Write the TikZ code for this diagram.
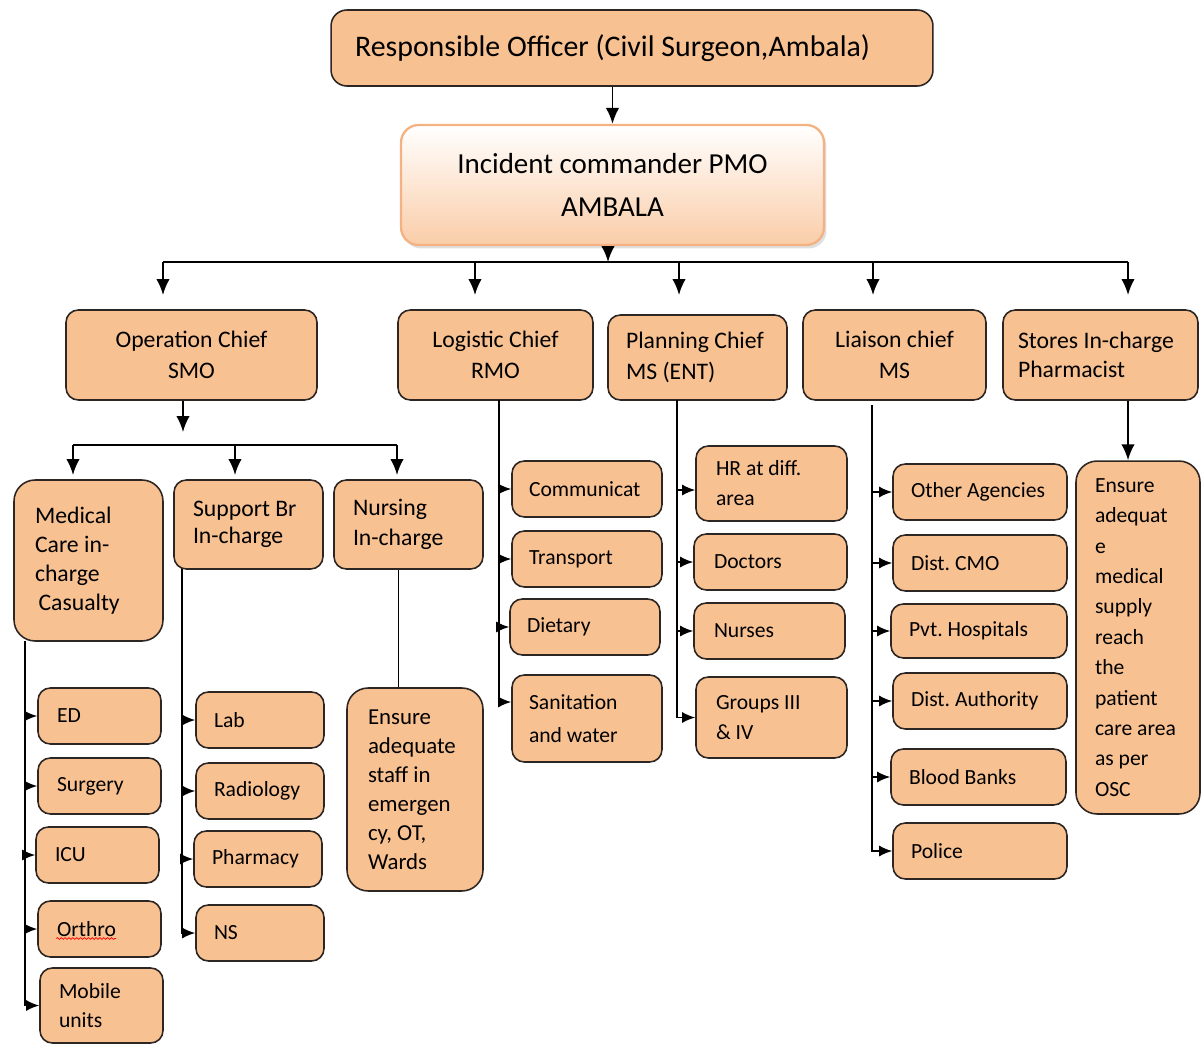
\documentclass[tikz,border=0pt]{standalone}
\usepackage{fontspec}
\setmainfont{Carlito}
\usepackage{tikz}
\usepackage{xcolor}
\usetikzlibrary{arrows.meta,shadows,decorations.pathmorphing}
\definecolor{peach}{RGB}{248,193,146}
\definecolor{peachlight}{RGB}{250,205,168}
\definecolor{peachedge}{RGB}{244,178,130}
\definecolor{boxedge}{RGB}{45,38,34}
\tikzset{
    org-box/.style = {draw=boxedge, fill=peach, line width=0.9pt, rectangle, rounded corners=7pt, inner sep=0pt, font=\fontsize{13.5}{18}\selectfont},
    leaf-box/.style = {org-box, minimum height=1.12cm, align=flush left, font=\fontsize{12.3}{17}\selectfont},
    head-box/.style = {draw=peachedge, top color=white, bottom color=peachlight, line width=1.3pt, rounded corners=10pt, inner sep=0pt, drop shadow={opacity=0.25, shadow xshift=0.05cm, shadow yshift=-0.07cm}},
    link/.style = {draw=black, line width=1.1pt, -{Latex[length=3.2mm, width=2.7mm]}},
    leaf-link/.style = {draw=black, line width=1pt, -{Latex[length=2.6mm, width=2.2mm]}},
    plain-link/.style = {draw=black, line width=1.1pt},
    spell-mark/.style = {draw=red, line width=0.4pt, decorate, decoration={snake, amplitude=0.5pt, segment length=2.2pt}},
}

\begin{document}
\frenchspacing
\begin{tikzpicture}[x=0.02cm, y=-0.02cm]
\useasboundingbox (0,0) rectangle (1201,1045);

\node[org-box, text width=11.08cm, inner xsep=0.48cm, minimum height=1.52cm, rounded corners=9pt, align=flush left, font=\fontsize{17}{20}\selectfont] (ro) at (632,48) {Responsible Officer (Civil Surgeon,Ambala)};
\node[head-box, minimum width=8.46cm, minimum height=2.4cm, align=flush center, font=\fontsize{16.5}{24}\selectfont] (ic) at (612.5,185) {Incident commander PMO\\AMBALA};

\node[org-box, minimum width=5.02cm, minimum height=1.8cm, align=flush center] (op) at (191.5,355) {Operation Chief\\SMO};
\node[org-box, minimum width=3.9cm, minimum height=1.8cm, align=flush center] (log) at (495.5,355) {Logistic Chief\\RMO};
\node[org-box, text width=2.86cm, inner xsep=0.36cm, minimum height=1.7cm, align=flush left] (plan) at (697.5,357.5) {Planning Chief\\MS (ENT)};
\node[org-box, minimum width=3.66cm, minimum height=1.8cm, align=flush center] (lia) at (894.5,355) {Liaison chief\\MS};
\node[org-box, text width=3.3cm, inner xsep=0.3cm, minimum height=1.8cm, align=flush left, font=\fontsize{13.5}{16.5}\selectfont] (sto) at (1100.5,355) {Stores In-charge\\Pharmacist};

\node[org-box, text width=2.14cm, inner xsep=0.42cm, minimum height=3.22cm, rounded corners=12pt, align=flush left, font=\fontsize{13.5}{16.5}\selectfont] (med) at (88.5,560.5) {Medical\\Care in-\\charge\\\hspace{2pt}Casualty};
\node[org-box, text width=2.22cm, inner xsep=0.38cm, minimum height=1.78cm, align=flush left, font=\fontsize{13.5}{15.5}\selectfont] (sup) at (248.5,524.5) {Support Br\\In-charge};
\node[org-box, text width=2.22cm, inner xsep=0.38cm, minimum height=1.78cm, align=flush left, font=\fontsize{13.5}{17}\selectfont] (nur) at (408.5,524.5) {Nursing\\In-charge};

\node[leaf-box, text width=1.70cm, inner xsep=0.38cm] (ed) at (99.5,716) {ED};
\node[leaf-box, text width=1.70cm, inner xsep=0.38cm] (sur) at (99.5,786) {Surgery};
\node[leaf-box, text width=1.70cm, inner xsep=0.38cm] (icu) at (97.5,855) {ICU};
\node[leaf-box, text width=1.70cm, inner xsep=0.38cm] (ort) at (99.5,929) {Orthro};
\node[leaf-box, text width=1.70cm, inner xsep=0.38cm, minimum height=1.5cm, font=\fontsize{12.3}{16.4}\selectfont] (mob) at (101.5,1005.5) {Mobile\\units};

\node[leaf-box, text width=1.84cm, inner xsep=0.36cm] (lab) at (260,720) {Lab};
\node[leaf-box, text width=1.84cm, inner xsep=0.36cm] (rad) at (260,791) {Radiology};
\node[leaf-box, text width=1.84cm, inner xsep=0.36cm] (pha) at (258,859) {Pharmacy};
\node[leaf-box, text width=1.84cm, inner xsep=0.36cm] (ns) at (260,933) {NS};

\node[org-box, text width=1.88cm, inner xsep=0.42cm, minimum height=4.06cm, rounded corners=12pt, align=flush left, font=\fontsize{13}{16.5}\selectfont] (staff) at (415,789.5) {Ensure\\adequate\\staff in\\emergen\\cy, OT,\\Wards};

\node[leaf-box, text width=2.32cm, inner xsep=0.34cm] (com) at (587,489) {Communicat};
\node[leaf-box, text width=2.32cm, inner xsep=0.34cm] (tra) at (587,559) {Transport};
\node[leaf-box, text width=2.32cm, inner xsep=0.34cm] (die) at (585,627) {Dietary};
\node[leaf-box, text width=2.32cm, inner xsep=0.34cm, minimum height=1.74cm, font=\fontsize{12.3}{18.7}\selectfont] (san) at (587,718.5) {Sanitation\\and water};

\node[leaf-box, text width=2.22cm, inner xsep=0.4cm, minimum height=1.5cm] (hr) at (771.5,483.5) {HR at diff.\\area};
\node[leaf-box, text width=2.26cm, inner xsep=0.4cm] (doc) at (770.5,562) {Doctors};
\node[leaf-box, text width=2.22cm, inner xsep=0.4cm] (nrs) at (769.5,631) {Nurses};
\node[leaf-box, text width=2.22cm, inner xsep=0.4cm, minimum height=1.62cm] (grp) at (771.5,717.5) {Groups III\\\& IV};

\node[leaf-box, text width=2.76cm, inner xsep=0.36cm] (oth) at (980,492) {Other Agencies};
\node[leaf-box, text width=2.76cm, inner xsep=0.36cm] (cmo) at (980,563) {Dist. CMO};
\node[leaf-box, text width=2.8cm, inner xsep=0.36cm, minimum height=1.08cm] (pvt) at (979,631) {Pvt. Hospitals};
\node[leaf-box, text width=2.76cm, inner xsep=0.36cm] (aut) at (980,701) {Dist. Authority};
\node[leaf-box, text width=2.78cm, inner xsep=0.36cm] (bld) at (978.5,777) {Blood Banks};
\node[leaf-box, text width=2.76cm, inner xsep=0.36cm] (pol) at (980,851) {Police};

\node[org-box, text width=1.72cm, inner xsep=0.38cm, minimum height=7.06cm, rounded corners=12pt, align=flush left, font=\fontsize{12.3}{17.3}\selectfont] (supply) at (1138,637.5) {Ensure\\adequat\\e\\medical\\supply\\reach\\the\\patient\\care area\\as per\\OSC};

\coordinate (bus) at (608,262);
\coordinate (busl) at (163,262);
\coordinate (busr) at (1128,262);
\coordinate (op-in) at (163,295);
\coordinate (log-in) at (475,295);
\coordinate (plan-in) at (679,295);
\coordinate (lia-in) at (873,295);
\coordinate (sto-in) at (1128,295);
\coordinate (op-out) at (183,432);
\coordinate (bus2l) at (73,445);
\coordinate (bus2r) at (397,445);
\coordinate (med-in) at (73,475);
\coordinate (sup-in) at (235,475);
\coordinate (nur-in) at (397,475);
\coordinate (med-t) at (25,641);
\coordinate (sup-t) at (182,569);
\coordinate (log-t) at (499,400);
\coordinate (plan-t) at (677,400);
\coordinate (lia-t) at (872,405);

\draw[link] (ro.south -| ic.north) -- (ic.north);
\draw[link] (bus |- ic.south) -- (bus);
\draw[plain-link] (busl) -- (busr);
\foreach \c in {op-in,log-in,plan-in,lia-in,sto-in}
    \draw[link] (\c |- bus) -- (\c);

\draw[link] (op-out |- op.south) -- (op-out);
\draw[plain-link] (bus2l) -- (bus2r);
\foreach \c in {med-in,sup-in,nur-in}
    \draw[link] (\c |- bus2l) -- (\c);

\foreach \n in {ed,sur,icu,ort,mob}
    \draw[leaf-link] (med-t) |- (\n.west);
\foreach \n in {lab,rad,pha,ns}
    \draw[leaf-link] (sup-t) |- (\n.west);
\draw[plain-link] ([xshift=-0.2cm]nur.south) -- ([xshift=-0.2cm]nur.south |- staff.north);

\foreach \n in {com,tra,die}
    \draw[leaf-link] (log-t) |- (\n.west);
\draw[leaf-link] (log-t) |- ([yshift=0.33cm]san.west);

\draw[leaf-link] (plan-t) |- ([yshift=-0.13cm]hr.west);
\foreach \n in {doc,nrs,grp}
    \draw[leaf-link] (plan-t) |- (\n.west);

\foreach \n in {oth,cmo,pvt,aut,bld,pol}
    \draw[leaf-link] (lia-t) |- (\n.west);

\draw[link] ([xshift=-0.2cm]supply.north |- sto.south) -- ([xshift=-0.2cm]supply.north);

\draw[spell-mark] ([xshift=0.38cm, yshift=-0.19cm]ort.west) -- ++(1.2cm,0);
\end{tikzpicture}
\end{document}
